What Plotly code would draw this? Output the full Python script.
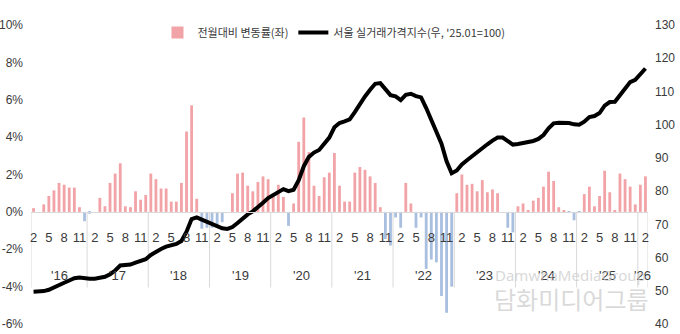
import plotly.graph_objects as go
import pandas as pd

# ---------------- data ----------------
months = [p.strftime('%Y-%m') for p in pd.period_range('2016-02', '2026-02', freq='M')]

# month-on-month change (%), left axis
mom_2016 = [0.2, 0.0, 0.4, 0.85, 1.15, 1.55, 1.45, 1.3, 1.3, 0.25, -0.5]
mom_2017 = [-0.1, 0.0, 0.75, 0.3, 1.55, 2.05, 2.6, 0.3, 0.25, 1.1, 0.65, 0.9]
mom_2018 = [2.05, 1.75, 1.25, 1.25, 0.55, 0.55, 1.55, 4.3, 5.7, 0.7, -0.9, -0.85]
mom_2019 = [-0.85, -0.75, -0.55, 0.0, 1.0, 2.05, 2.1, 1.4, 1.1, 1.6, 1.9, 1.75]
mom_2020 = [1.0, 1.45, 0.8, -0.75, 0.45, 3.75, 5.05, 3.2, 1.4, 0.85, 1.85, 2.1]
mom_2021 = [3.15, 1.4, 0.55, 0.55, 2.1, 2.4, 2.25, 1.9, 1.55, 0.25, -1.45, -1.8]
mom_2022 = [-0.3, -0.85, 1.55, 0.45, -0.85, -0.3, -3.05, -2.55, -2.7, -4.5, -5.4, -4.0]
mom_2023 = [1.0, 2.0, 1.45, 1.5, 1.1, 1.7, 1.05, 1.2, 1.0, 0.0, -0.85, -1.1]
mom_2024 = [0.3, 0.45, 0.1, 0.6, 0.75, 1.35, 2.15, 1.65, 0.25, 0.05, -0.05, -0.45]
mom_2025 = [-0.05, 0.95, 1.35, 0.3, 0.85, 2.2, 1.05, 0.05, 2.05, 1.75, 1.35, 0.4]
mom_2026 = [1.45, 1.9]
mom_change = (mom_2016 + mom_2017 + mom_2018 + mom_2019 + mom_2020 + mom_2021
              + mom_2022 + mom_2023 + mom_2024 + mom_2025 + mom_2026)

# Seoul real transaction price index ('25.01 = 100), right axis
idx_2016 = [49.7, 49.7, 49.9, 50.3, 50.9, 51.6, 52.4, 53.1, 53.8, 54.0, 53.7]
idx_2017 = [53.6, 53.6, 54.0, 54.2, 55.0, 56.1, 57.6, 57.8, 57.9, 58.5, 59.0, 59.5]
idx_2018 = [60.8, 61.8, 62.6, 63.3, 63.7, 64.1, 65.0, 67.8, 71.6, 72.1, 71.4, 70.8]
idx_2019 = [70.0, 69.4, 68.8, 68.6, 69.2, 70.4, 71.9, 73.0, 73.9, 75.1, 76.5, 77.9]
idx_2020 = [78.8, 80.0, 80.6, 80.0, 80.4, 83.3, 87.5, 90.3, 91.6, 92.4, 94.1, 96.1]
idx_2021 = [99.2, 100.5, 101.0, 101.6, 103.8, 106.3, 108.5, 110.5, 112.3, 112.5, 110.8, 108.9]
idx_2022 = [108.5, 107.4, 109.0, 109.3, 108.6, 108.2, 105.0, 101.6, 98.3, 94.3, 89.0, 85.4]
idx_2023 = [86.2, 88.0, 89.3, 90.6, 91.6, 93.1, 94.1, 95.2, 96.1, 96.1, 95.2, 94.0]
idx_2024 = [94.2, 94.5, 94.6, 95.1, 95.7, 96.9, 98.9, 100.4, 100.6, 100.6, 100.5, 100.1]
idx_2025 = [100.0, 100.9, 102.3, 102.6, 103.5, 105.7, 106.8, 106.9, 109.0, 111.2, 112.8, 113.5]
idx_2026 = [115.0, 116.9]
price_index = (idx_2016 + idx_2017 + idx_2018 + idx_2019 + idx_2020 + idx_2021
               + idx_2022 + idx_2023 + idx_2024 + idx_2025 + idx_2026)

year_labels = ["'16", "'17", "'18", "'19", "'20", "'21", "'22", "'23", "'24", "'25", "'26"]
month_tick_labels = {"02": "2", "05": "5", "08": "8", "11": "11"}
left_tick_vals = [-6, -4, -2, 0, 2, 4, 6, 8, 10]
left_tick_text = ["-6%", "-4%", "-2%", "0%", "2%", "4%", "6%", "8%", "10%"]
right_tick_vals = [40, 50, 60, 70, 80, 90, 100, 110, 120, 130]

bar_name = "전월대비 변동률(좌)"
line_name = "서울 실거래가격지수(우, '25.01=100)"

# ---------------- styling ----------------
POS = "#F2A3A7"
NEG = "#A9BFE0"
FONT = "Liberation Sans, Noto Sans CJK KR, sans-serif"
KFONT = "Noto Sans CJK KR, sans-serif"
TXT = "#3a3a3a"

bar_colors = [POS if v >= 0 else NEG for v in mom_change]

fig = go.Figure()
fig.add_trace(go.Bar(x=months, y=mom_change, name=bar_name,
                     marker=dict(color=bar_colors, line=dict(width=0)),
                     yaxis="y"))
fig.add_trace(go.Scatter(x=months, y=price_index, name=line_name, mode="lines",
                         line=dict(color="black", width=4), yaxis="y2"))

tick_vals = [m for m in months if m[5:] in month_tick_labels]
tick_text = [month_tick_labels[m[5:]] for m in tick_vals]

# year group separators and labels
years = sorted(set(m[:4] for m in months))
shapes = []
annotations = []
bounds = [-0.5]
for y in years:
    ids = [i for i, m in enumerate(months) if m[:4] == y]
    bounds.append(ids[-1] + 0.5)
    annotations.append(dict(x=(ids[0] + ids[-1]) / 2, y=-3.4, xref="x", yref="y",
                            text=year_labels[years.index(y)], showarrow=False,
                            font=dict(family=FONT, size=13, color=TXT)))
for b in bounds:
    shapes.append(dict(type="line", xref="x", yref="y", x0=b, x1=b, y0=0, y1=-4.05,
                       line=dict(color="#D9D9D9", width=1), layer="below"))

# watermark
annotations.append(dict(x=1.0, y=0.165, xref="paper", yref="paper", text="DamwhaMediaGroup",
                        showarrow=False, xanchor="right", yanchor="middle",
                        font=dict(family="Noto Sans", size=15, color="rgba(200,200,200,0.7)")))
annotations.append(dict(x=1.005, y=0.085, xref="paper", yref="paper", text="담화미디어그룹",
                        showarrow=False, xanchor="right", yanchor="middle",
                        font=dict(family=KFONT, size=24, color="rgba(210,210,210,0.85)")))

fig.update_layout(
    width=680, height=334,
    margin=dict(l=31, r=32, t=25, b=10, autoexpand=False),
    plot_bgcolor="white", paper_bgcolor="white",
    bargap=0.45,
    font=dict(family=FONT, size=12, color=TXT),
    legend=dict(orientation="h", x=0.205, y=0.975, xanchor="left", yanchor="middle",
                bgcolor="rgba(0,0,0,0)", font=dict(family=KFONT, size=11, color=TXT),
                itemwidth=30, traceorder="normal"),
    xaxis=dict(type="category", range=[-0.5, len(months) - 0.5], automargin=False,
               tickvals=tick_vals, ticktext=tick_text, ticks="",
               showgrid=False, zeroline=False, showline=True, linecolor="#D9D9D9", linewidth=1,
               anchor="free", position=0.375, ticklabelstandoff=14,
               tickfont=dict(family=FONT, size=13, color=TXT)),
    yaxis=dict(range=[-6, 10], tickvals=left_tick_vals, ticktext=left_tick_text, automargin=False,
               showgrid=False, zeroline=False, showline=False, ticks="",
               ticklabelstandoff=7, tickfont=dict(family=FONT, size=12, color=TXT)),
    yaxis2=dict(range=[40, 130], tickvals=right_tick_vals, overlaying="y", side="right",
                automargin=False,
                showgrid=False, zeroline=False, showline=False, ticks="",
                ticklabelstandoff=6, tickfont=dict(family=FONT, size=12, color=TXT)),
    shapes=shapes,
    annotations=annotations,
)

fig.write_html("out.html")
